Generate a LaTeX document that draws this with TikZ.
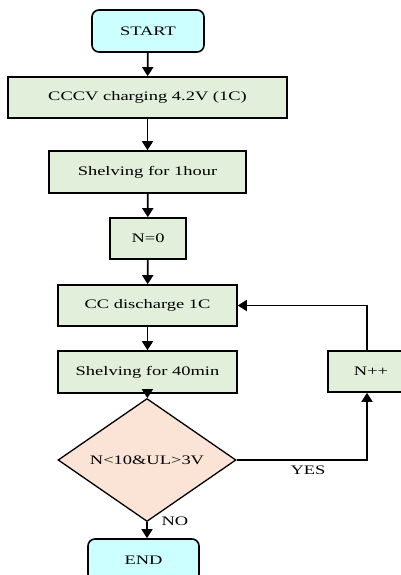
\documentclass[tikz,border=0pt]{standalone}
\usepackage{fontspec}
\setmainfont{Liberation Serif}[FakeStretch=1.42]
\usetikzlibrary{shapes.geometric,arrows.meta}
\definecolor{boxgreen}{HTML}{E2EFDA}
\definecolor{termcyan}{HTML}{CCFFFF}
\definecolor{decpeach}{HTML}{FBE4D5}
\begin{document}
\begin{tikzpicture}[x=1pt,y=-1pt,
  every node/.style={font=\fontsize{13}{15}\selectfont},
  proc/.style={draw=black,line width=1.6pt,fill=boxgreen,rectangle,inner sep=0pt},
  term/.style={draw=black,line width=1.6pt,fill=termcyan,rectangle,rounded corners=7pt,inner sep=0pt},
  dec/.style={draw=black,line width=1.3pt,fill=decpeach,diamond,inner sep=0pt,minimum width=178pt,minimum height=84pt},
  conn/.style={line width=1.7pt,-{Triangle[width=11pt,length=9pt]}},
  lnk/.style={line width=1.7pt}
]
\clip (0,0) rectangle (401,575);
\fill[white] (0,0) rectangle (401,575);
\node[term,minimum width=112pt,minimum height=42pt] (start) at (148,31) {START};
\node[proc,minimum width=279pt,minimum height=41pt] (charge) at (147.5,97.5) {CCCV charging 4.2V (1C)};
\node[proc,minimum width=197pt,minimum height=42pt] (shelf1) at (147.5,172) {Shelving for 1hour};
\node[proc,minimum width=76pt,minimum height=41pt] (nzero) at (148,238.5) {N=0};
\node[proc,minimum width=179pt,minimum height=41pt] (cc) at (147.5,305.5) {CC discharge 1C};
\node[proc,minimum width=179pt,minimum height=42pt] (shelf2) at (147.5,372) {Shelving for 40min};
\node[dec] (dec) at (147,460) {N<10\&UL>3V};
\node[proc,minimum width=86pt,minimum height=41pt] (npp) at (371,371.5) {N++};
\node[term,minimum width=111pt,minimum height=42pt] (endn) at (143.5,560) {END};
\node (yes) at (308,470) {YES};
\node (no) at (175,521) {NO};
\draw[conn] (start) -- (charge);
\draw[conn] (charge) -- (shelf1);
\draw[conn] (shelf1) -- (nzero);
\draw[conn] (nzero) -- (cc);
\draw[conn] (cc) -- (shelf2);
\draw[conn] (shelf2) -- (dec);
\draw[conn] (dec.south) -- (dec.south |- endn.north);
\draw[conn] (dec.east) -| ([xshift=-4pt]npp.south);
\draw[conn] ([xshift=-4pt]npp.north) |- (cc.east);
\end{tikzpicture}
\end{document}
